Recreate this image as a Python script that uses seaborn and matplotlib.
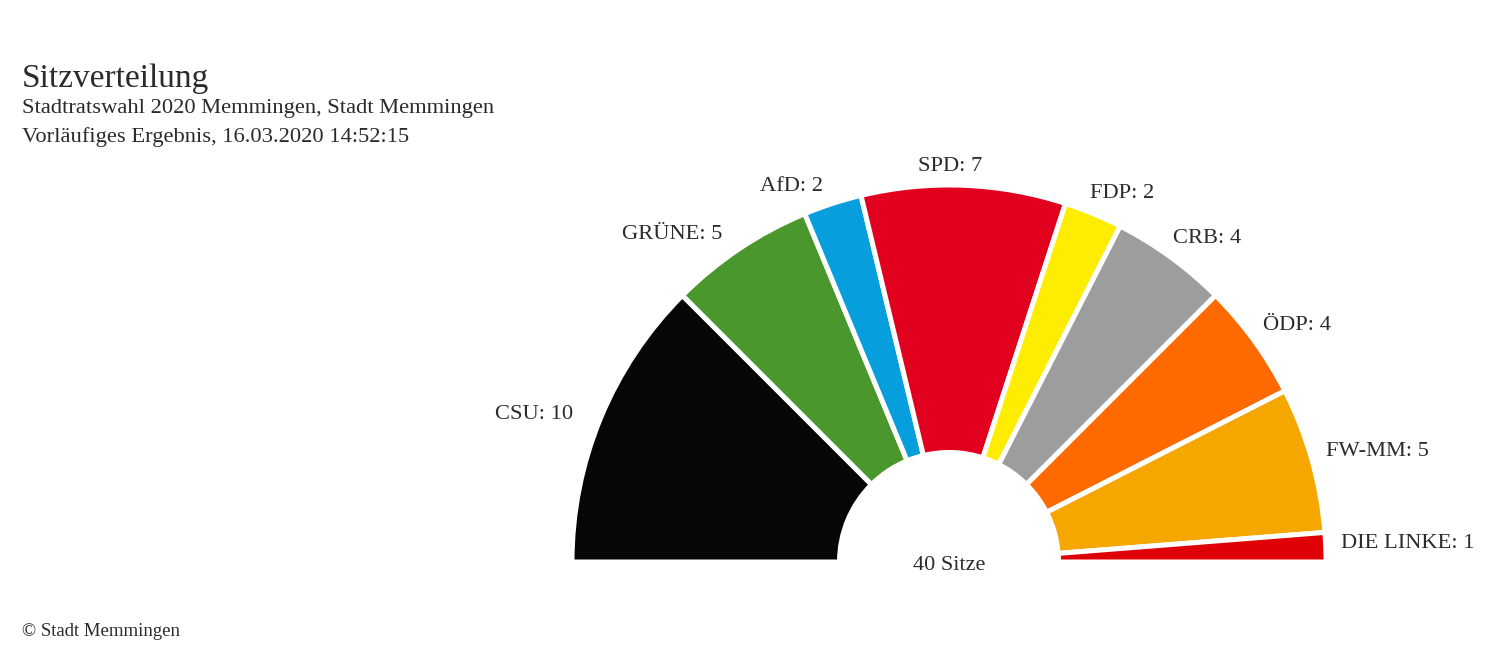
"""
Sitzverteilung Stadtrat Memmingen 2020 als Halbkreis-Diagramm.
Speichert out.png (1500x661 px).
"""

import numpy as np
import matplotlib
matplotlib.use("Agg")
import matplotlib.pyplot as plt
import seaborn as sns

# ----------------------------------------------------------------------------
# Daten
# ----------------------------------------------------------------------------
PARTIES = ["CSU", "GRÜNE", "AfD", "SPD", "FDP", "CRB", "ÖDP", "FW-MM", "DIE LINKE"]
SEATS = [10, 5, 2, 7, 2, 4, 4, 5, 1]
COLORS = ["#060606", "#4a972e", "#079edd", "#e2001f", "#ffed00",
          "#9d9d9d", "#ff6a00", "#f5a700", "#df0007"]

TITLE = "Sitzverteilung"
SUBTITLE = ["Stadtratswahl 2020 Memmingen, Stadt Memmingen",
            "Vorläufiges Ergebnis, 16.03.2020 14:52:15"]
FOOTER = "© Stadt Memmingen"

W, H = 1500, 661
CX, CY, R = 949, 562, 377     # Mittelpunkt / Radius in Pixeln
HOLE = 109.5 / 377            # Innenradius relativ

sns.set_theme(style="white")
plt.rcParams["font.family"] = ["Liberation Serif", "DejaVu Serif"]
TEXT_COLOR = "#2b2b2b"

fig = plt.figure(figsize=(W / 100, H / 100), dpi=100)
ax = fig.add_axes([0, 0, 1, 1])

total = sum(SEATS)
palette = sns.color_palette(COLORS)

# Halbkreis: unsichtbarer unterer Teil mit gleicher Summe
wedges, _ = ax.pie(
    SEATS + [total],
    colors=list(palette) + [(1, 1, 1, 0)],
    startangle=180,
    counterclock=False,
    radius=1.0,
    center=(0, 0),
    wedgeprops=dict(width=1 - HOLE, edgecolor="white", linewidth=3.6),
    frame=True,
)
wedges[-1].set_edgecolor("none")
wedges[-1].set_facecolor("none")
ax.set_xlim(-CX / R, (W - CX) / R)
ax.set_ylim(-(H - CY) / R, CY / R)
ax.set_aspect("auto")
ax.axis("off")

# Beschriftungen an den Segmentmitten
cum = np.cumsum([0] + SEATS)
for party, seats, a0, a1 in zip(PARTIES, SEATS, cum[:-1], cum[1:]):
    mid = np.deg2rad(180 - 180 * (a0 + a1) / 2 / total)
    c, s = np.cos(mid), np.sin(mid)
    x, y = 1.08 * c, 1.065 * s + 0.022 * max(c, 0) - 0.016
    if x > 0:
        x -= 0.04
    if abs(c) < 0.1:
        ha = "center"
    elif c > 0:
        ha = "left"
    else:
        ha = "right"
    ax.text(x, y, f"{party}: {seats}", ha=ha, va="center",
            fontsize=16.2, color=TEXT_COLOR)

ax.text(0, -0.008, f"{total} Sitze", ha="center", va="center",
        fontsize=16, color=TEXT_COLOR)

# Titel, Untertitel, Quelle
fig.text(22 / W, 1 - 79 / H, TITLE, ha="left", va="center",
         fontsize=24, color=TEXT_COLOR)
fig.text(22 / W, 1 - 109 / H, SUBTITLE[0], ha="left", va="center",
         fontsize=16.2, color=TEXT_COLOR)
fig.text(22 / W, 1 - 137 / H, SUBTITLE[1], ha="left", va="center",
         fontsize=16.2, color=TEXT_COLOR)
fig.text(22 / W, 1 - 631 / H, FOOTER, ha="left", va="center",
         fontsize=13.5, color=TEXT_COLOR)

fig.savefig("out.png", dpi=100, facecolor="white")
plt.close(fig)
